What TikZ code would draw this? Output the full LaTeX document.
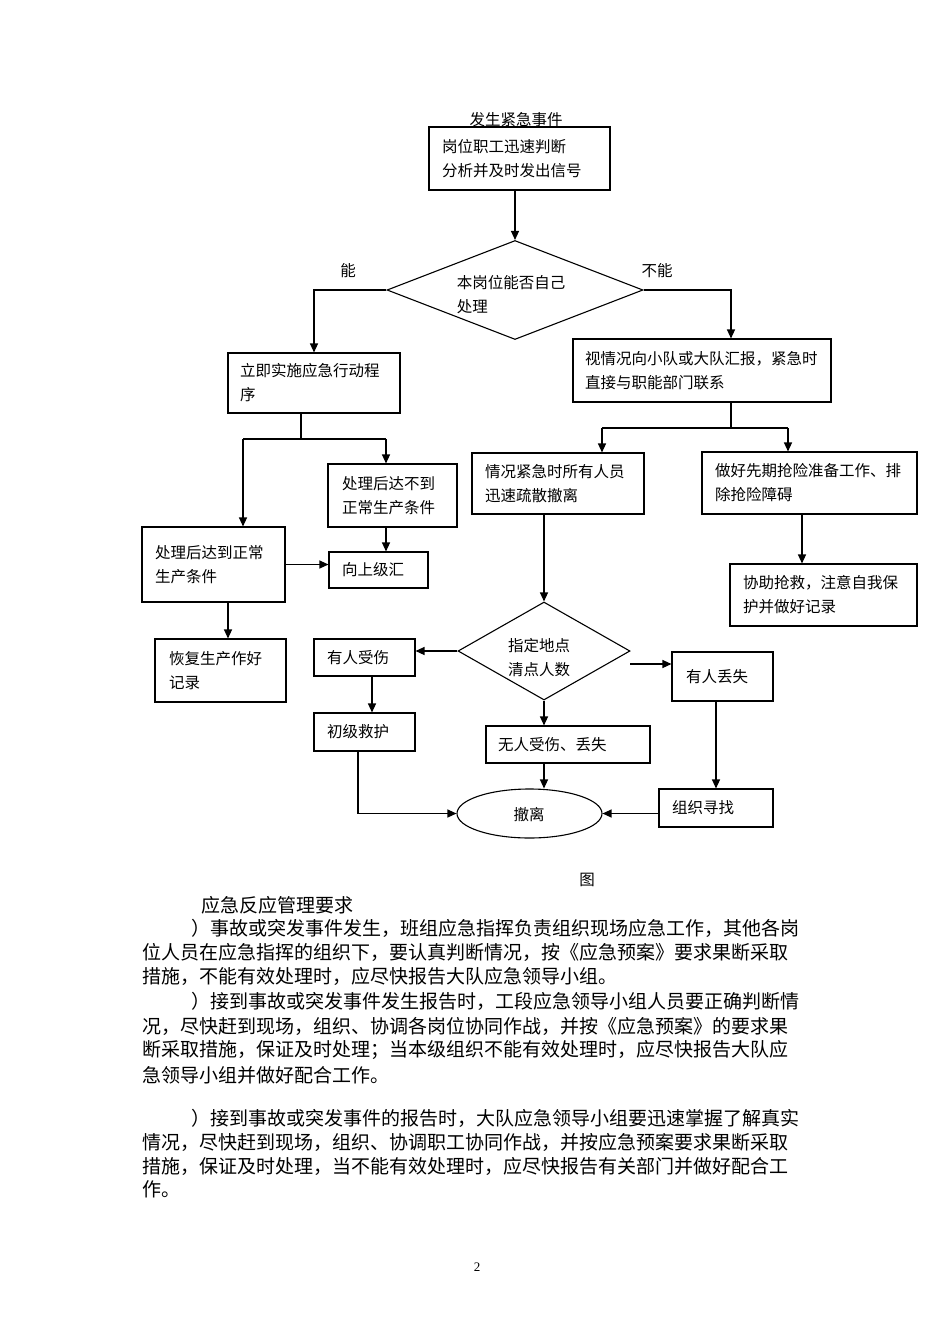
\documentclass[tikz,border=0pt]{standalone}
\usepackage{fontspec}
\setmainfont{Noto Sans CJK SC}
\newfontfamily\numfont{Liberation Serif}
\usetikzlibrary{shapes.geometric,arrows.meta}
\tikzset{
  bx/.style={draw, line width=1.1pt, font=\fontsize{15.5}{24}\selectfont, align=left, inner ysep=2pt},
  dia/.style={draw, diamond, line width=1.1pt, inner sep=0pt},
  txt/.style={font=\fontsize{15.5}{24}\selectfont, inner sep=0pt},
  bodyln/.style={anchor=west, inner sep=0pt, font=\fontsize{19}{24}\selectfont},
  arr/.style={-{Triangle[length=9pt,width=8pt]}, line width=1.2pt},
  plain/.style={line width=1.2pt}
}
\begin{document}
\begin{tikzpicture}[x=1pt,y=-1pt]
\useasboundingbox (0,0) rectangle (950,1344);
\fill[white] (0,0) rectangle (950,1344);

% boxes
\node[bx, minimum width=181pt, minimum height=63pt, text width=155pt, inner xsep=13pt] (b1) at (519.5,158.5) {岗位职工迅速判断\\分析并及时发出信号};
\node[txt] (t0) at (516,120) {发生紧急事件};
\node[dia, minimum width=256pt, minimum height=99pt] (d1) at (515,290) {};
\node[txt, align=left] (d1t) at (511,295) {本岗位能否自己\\处理};
\node[txt] (lneng) at (348,271) {能};
\node[txt] (lbuneng) at (657,271) {不能};

\node[bx, minimum width=172pt, minimum height=60pt, text width=148pt, inner xsep=12pt] (b2) at (314,383) {立即实施应急行动程\\序};
\node[bx, minimum width=258pt, minimum height=63pt, text width=234pt, inner xsep=12pt] (b3) at (702,370.5) {视情况向小队或大队汇报，紧急时\\直接与职能部门联系};
\node[bx, minimum width=129pt, minimum height=63pt, text width=101pt, inner xsep=14pt] (b4) at (392.5,495.5) {处理后达不到\\正常生产条件};
\node[bx, minimum width=143pt, minimum height=75pt, text width=117pt, inner xsep=13pt] (b5) at (213.5,564.5) {处理后达到正常\\生产条件};
\node[bx, minimum width=99pt, minimum height=36pt, text width=73pt, inner xsep=13pt] (b6) at (378.5,570) {向上级汇};
\node[bx, minimum width=131pt, minimum height=63pt, text width=103pt, inner xsep=14pt] (b7) at (220.5,670.5) {恢复生产作好\\记录};
\node[bx, minimum width=172pt, minimum height=61pt, text width=146pt, inner xsep=13pt] (b8) at (558,483.5) {情况紧急时所有人员\\迅速疏散撤离};
\node[bx, minimum width=215pt, minimum height=62pt, text width=189pt, inner xsep=13pt] (b9) at (809.5,483) {做好先期抢险准备工作、排\\除抢险障碍};
\node[bx, minimum width=187pt, minimum height=62pt, text width=161pt, inner xsep=13pt] (b10) at (823.5,595) {协助抢救，注意自我保\\护并做好记录};
\node[dia, minimum width=172pt, minimum height=98pt] (d2) at (544,651) {};
\node[txt, align=left] (d2t) at (539,657.5) {指定地点\\清点人数};
\node[bx, minimum width=101pt, minimum height=37pt, text width=75pt, inner xsep=13pt] (b11) at (364.5,657.5) {有人受伤};
\node[bx, minimum width=101pt, minimum height=38pt, text width=75pt, inner xsep=13pt] (b13) at (364.5,732) {初级救护};
\node[bx, minimum width=101pt, minimum height=49pt, text width=73pt, inner xsep=14pt] (b12) at (722.5,676.5) {有人丢失};
\node[bx, minimum width=164pt, minimum height=37pt, text width=140pt, inner xsep=12pt] (b14) at (568,744.5) {无人受伤、丢失};
\node[bx, minimum width=114pt, minimum height=38pt, text width=88pt, inner xsep=13pt] (b15) at (716,808) {组织寻找};
\node[draw, ellipse, line width=1.1pt, minimum width=145pt, minimum height=49pt, inner sep=0pt] (e1) at (529.5,813.5) {};
\node[txt] (e1t) at (529,815) {撤离};

% connectors
\draw[arr] (d1.north |- b1.south) -- (d1.north);
\draw[arr] (d1.west) -| (b2.north);
\coordinate (c3) at (731,290);
\draw[arr] (d1.east) -- (c3) -- (c3 |- b3.north);

\coordinate (j1) at (301,439);
\coordinate (j1l) at (243,439);
\coordinate (j1r) at (386,439);
\draw[plain] (j1 |- b2.south) -- (j1);
\draw[plain] (j1l) -- (j1r);
\draw[arr] (j1l) -- (j1l |- b5.north);
\draw[arr] (j1r) -- (j1r |- b4.north);
\draw[arr] (b5.east) -- (b5.east -| b6.west);
\draw[arr] (j1r |- b4.south) -- (j1r |- b6.north);
\coordinate (v7) at (228,620);
\draw[arr] (v7 |- b5.south) -- (v7 |- b7.north);

\coordinate (j2) at (731,428);
\coordinate (j2l) at (602,428);
\coordinate (j2r) at (788,428);
\draw[plain] (j2 |- b3.south) -- (j2);
\draw[plain] (j2l) -- (j2r);
\draw[arr] (j2l) -- (j2l |- b8.north);
\draw[arr] (j2r) -- (j2r |- b9.north);
\draw[arr] (d2.north |- b8.south) -- (d2.north);
\coordinate (v10) at (802,540);
\draw[arr] (v10 |- b9.south) -- (v10 |- b10.north);
\draw[arr] (d2.west) -- (d2.west -| b11.east);
\coordinate (c12) at (630,664);
\draw[arr] (c12) -- (c12 -| b12.west);
\coordinate (v13) at (372,700);
\draw[arr] (v13 |- b11.south) -- (v13 |- b13.north);
\draw[arr] (d2.south) -- (d2.south |- b14.north);
\draw[arr] (d2.south |- b14.south) -- (d2.south |- e1.north);
\coordinate (v15) at (716,750);
\draw[arr] (v15 |- b12.south) -- (v15 |- b15.north);
\draw[arr] (e1.east -| b15.west) -- (e1.east);
\coordinate (k) at (358,813.5);
\draw[arr] (k |- b13.south) -- (k) -- (e1.west);

% caption and body text
\node[txt] (cap) at (587,880) {图};
\node[bodyln] (h) at (201,905) {应急反应管理要求};
\node[bodyln] (p1a) at (191,928) {）事故或突发事件发生，班组应急指挥负责组织现场应急工作，其他各岗};
\node[bodyln] (p1b) at (142,952) {位人员在应急指挥的组织下，要认真判断情况，按《应急预案》要求果断采取};
\node[bodyln] (p1c) at (142,976) {措施，不能有效处理时，应尽快报告大队应急领导小组。};
\node[bodyln] (p2a) at (191,1001) {）接到事故或突发事件发生报告时，工段应急领导小组人员要正确判断情};
\node[bodyln] (p2b) at (142,1026) {况，尽快赶到现场，组织、协调各岗位协同作战，并按《应急预案》的要求果};
\node[bodyln] (p2c) at (142,1050) {断采取措施，保证及时处理；当本级组织不能有效处理时，应尽快报告大队应};
\node[bodyln] (p2d) at (142,1075) {急领导小组并做好配合工作。};
\node[bodyln] (p3a) at (191,1118) {）接到事故或突发事件的报告时，大队应急领导小组要迅速掌握了解真实};
\node[bodyln] (p3b) at (142,1142) {情况，尽快赶到现场，组织、协调职工协同作战，并按应急预案要求果断采取};
\node[bodyln] (p3c) at (142,1166) {措施，保证及时处理，当不能有效处理时，应尽快报告有关部门并做好配合工};
\node[bodyln] (p3d) at (142,1189) {作。};
\node[font=\numfont\fontsize{13}{15}\selectfont, inner sep=0pt] (pg) at (477,1267) {2};
\end{tikzpicture}
\end{document}
